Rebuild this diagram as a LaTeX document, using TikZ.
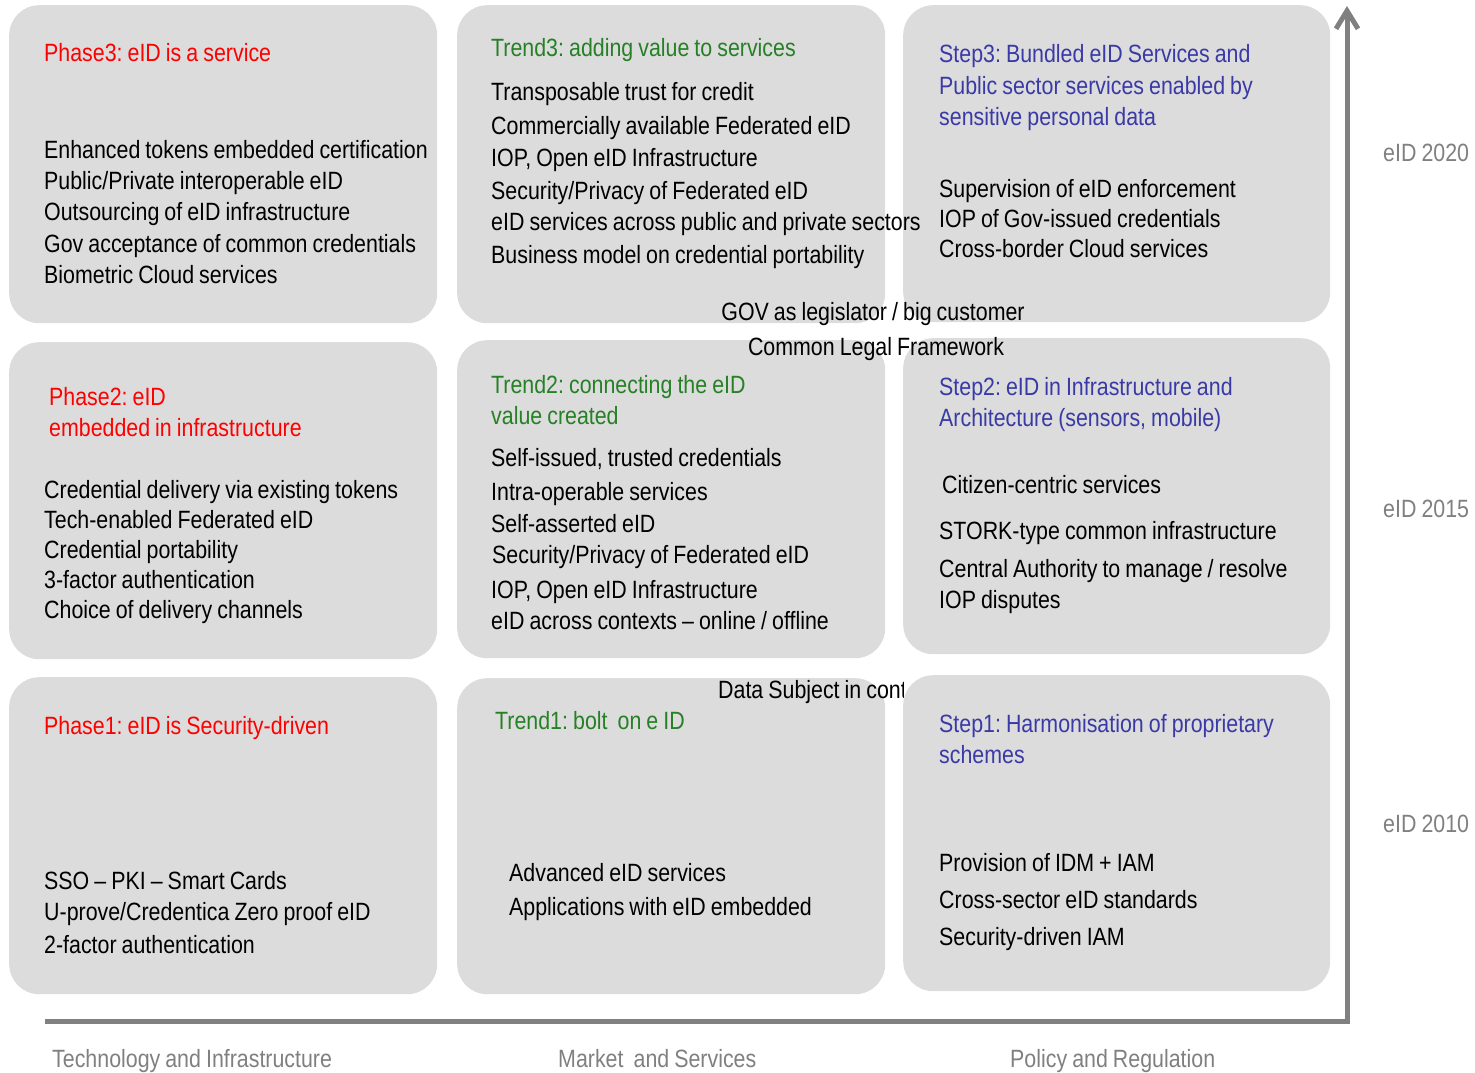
\documentclass[tikz,border=0pt]{standalone}
\usepackage{fontspec}
\setmainfont[FakeStretch=0.855,WordSpace=0.85]{Liberation Sans}
\usetikzlibrary{arrows.meta}
\frenchspacing

\definecolor{boxgray}{RGB}{220,220,220}
\definecolor{phasered}{RGB}{255,0,0}
\definecolor{trendgreen}{RGB}{38,128,38}
\definecolor{stepblue}{RGB}{58,58,166}
\definecolor{axisgray}{RGB}{128,128,128}
\definecolor{labelgray}{RGB}{128,128,128}

\begin{document}
\begin{tikzpicture}[x=1pt,y=-1pt,
  panel/.style={fill=boxgray, rounded corners=30pt, anchor=north west,
    minimum width=428pt, minimum height=318pt, inner sep=0pt},
  txt/.style={anchor=base west, inner sep=0pt, font=\fontsize{25}{30}\selectfont\frenchspacing},
  phase/.style={txt, text=phasered},
  trend/.style={txt, text=trendgreen},
  stepttl/.style={txt, text=stepblue},
  axislbl/.style={txt, text=labelgray},
  axis/.style={draw=axisgray, line width=5pt, line join=miter}
]
\useasboundingbox (0,0) rectangle (1475,1073);

% panels: technology column
\node[panel] (p13) at (9,5) {};
\node[panel, minimum height=317pt] (p12) at (9,342) {};
\node[panel, minimum height=317pt] (p11) at (9,677) {};
% panels: market column
\node[panel] (p23) at (457,5) {};
\node[panel] (p22) at (457,340) {};
\node[panel, minimum height=316pt] (p21) at (457,678) {};

% caption that runs under the policy column
\begin{scope}
  \clip (0,0) rectangle (903,1073);
  \node[txt] (ds) at (718,698) {Data Subject in cont};
\end{scope}

% panels: policy column
\node[panel, minimum width=427pt, minimum height=317pt] (p33) at (903,5) {};
\node[panel, minimum width=427pt, minimum height=316pt] (p32) at (903,338) {};
\node[panel, minimum width=427pt, minimum height=316pt] (p31) at (903,675) {};

% axes
\coordinate (xstart) at (45,1021);
\coordinate (origin) at (1347,1021);
\coordinate (ytop) at (1347,6);
\draw[axis, -{Straight Barb[length=18pt,width=22pt]}] (xstart) -- (origin) -- (ytop);

% technology column text
\node[phase] (ph3) at (44,62) {Phase3: eID is a service};
\node[txt] (t3a) at (44,158) {Enhanced tokens embedded certification};
\node[txt] (t3b) at (44,189) {Public/Private interoperable eID};
\node[txt] (t3c) at (44,220) {Outsourcing of eID infrastructure};
\node[txt] (t3d) at (44,252) {Gov acceptance of common credentials};
\node[txt] (t3e) at (44,283) {Biometric Cloud services};

\node[phase] (ph2a) at (49,405) {Phase2: eID};
\node[phase] (ph2b) at (49,436) {embedded in infrastructure};
\node[txt] (t2a) at (44,498) {Credential delivery via existing tokens};
\node[txt] (t2b) at (44,528) {Tech-enabled Federated eID};
\node[txt] (t2c) at (44,558) {Credential portability};
\node[txt] (t2d) at (44,588) {3-factor authentication};
\node[txt] (t2e) at (44,618) {Choice of delivery channels};

\node[phase] (ph1) at (44,734) {Phase1: eID is Security-driven};
\node[txt] (t1a) at (44,889) {SSO – PKI – Smart Cards};
\node[txt] (t1b) at (44,920) {U-prove/Credentica Zero proof eID};
\node[txt] (t1c) at (44,953) {2-factor authentication};

% market column text
\node[trend] (tr3) at (491,57) {Trend3: adding value to services};
\node[txt] (m3a) at (491,100) {Transposable trust for credit};
\node[txt] (m3b) at (491,134) {Commercially available Federated eID};
\node[txt] (m3c) at (491,166) {IOP, Open eID Infrastructure};
\node[txt] (m3d) at (491,199) {Security/Privacy of Federated eID};
\node[txt] (m3e) at (491,230) {eID services across public and private sectors};
\node[txt] (m3f) at (491,263) {Business model on credential portability};

\node[txt, anchor=base] (gov) at (873,320) {GOV as legislator / big customer};
\node[txt, anchor=base] (clf) at (876,355) {Common Legal Framework};

\node[trend] (tr2a) at (491,393) {Trend2: connecting the eID};
\node[trend] (tr2b) at (491,424) {value created};
\node[txt] (m2a) at (491,466) {Self-issued, trusted credentials};
\node[txt] (m2b) at (491,500) {Intra-operable services};
\node[txt] (m2c) at (491,532) {Self-asserted eID};
\node[txt] (m2d) at (492,563) {Security/Privacy of Federated eID};
\node[txt] (m2e) at (491,598) {IOP, Open eID Infrastructure};
\node[txt] (m2f) at (491,629) {eID across contexts – online / offline};

\node[trend] (tr1) at (495,729) {Trend1: bolt\ \ on e ID};
\node[txt] (m1a) at (509,881) {Advanced eID services};
\node[txt] (m1b) at (509,915) {Applications with eID embedded};

% policy column text
\node[stepttl] (st3a) at (939,63) {Step3: Bundled eID Services and};
\node[stepttl] (st3b) at (939,94) {Public sector services enabled by};
\node[stepttl] (st3c) at (939,125) {sensitive personal data};
\node[txt] (s3a) at (939,197) {Supervision of eID enforcement};
\node[txt] (s3b) at (939,227) {IOP of Gov-issued credentials};
\node[txt] (s3c) at (939,257) {Cross-border Cloud services};

\node[stepttl] (st2a) at (939,395) {Step2: eID in Infrastructure and};
\node[stepttl] (st2b) at (939,426) {Architecture (sensors, mobile)};
\node[txt] (s2a) at (942,493) {Citizen-centric services};
\node[txt] (s2b) at (939,539) {STORK-type common infrastructure};
\node[txt] (s2c) at (939,577) {Central Authority to manage / resolve};
\node[txt] (s2d) at (939,608) {IOP disputes};

\node[stepttl] (st1a) at (939,732) {Step1: Harmonisation of proprietary};
\node[stepttl] (st1b) at (939,763) {schemes};
\node[txt] (s1a) at (939,871) {Provision of IDM + IAM};
\node[txt] (s1b) at (939,908) {Cross-sector eID standards};
\node[txt] (s1c) at (939,945) {Security-driven IAM};

% axis labels
\node[axislbl] (y2020) at (1383,161) {eID 2020};
\node[axislbl] (y2015) at (1383,517) {eID 2015};
\node[axislbl] (y2010) at (1383,832) {eID 2010};
\node[axislbl] (xtech) at (52,1067) {Technology and Infrastructure};
\node[axislbl] (xmkt) at (558,1067) {Market\ \ and Services};
\node[axislbl] (xpol) at (1010,1067) {Policy and Regulation};
\end{tikzpicture}
\end{document}
